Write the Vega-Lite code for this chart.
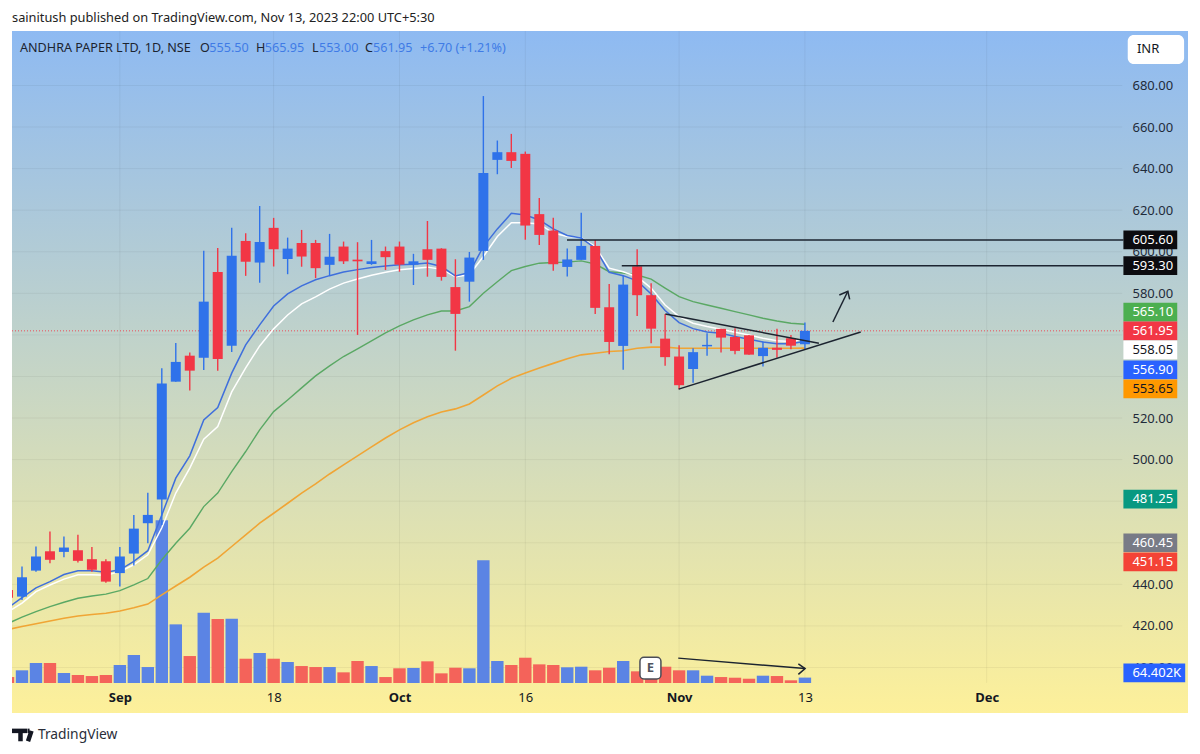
{"$schema":"https://vega.github.io/schema/vega-lite/v6.json","width":1176,"height":682,"autosize":"none","padding":{"left":12,"top":31,"right":12,"bottom":41},"background":"white","view":{"stroke":null,"fill":{"gradient":"linear","x1":0,"y1":0,"x2":0,"y2":1,"stops":[{"offset":0,"color":"#8ebaf2"},{"offset":1,"color":"#fdf09a"}]}},"config":{"font":"Noto Sans"},"title":{"text":"sainitush published on TradingView.com, Nov 13, 2023 22:00 UTC+5:30","anchor":"start","frame":"group","offset":6,"fontSize":12.8,"fontWeight":"normal","font":"Noto Sans","color":"#222222"},"datasets":{"bars":[
{"i":-1,"dir":"down","o":437.3,"h":439.7,"l":431.6,"c":433.5,"vol":71,"blue":428.7,"white":426.8,"green":421.2,"orange":418.3},
{"i":0,"dir":"up","o":434.1,"h":448.6,"l":432.5,"c":443.4,"vol":151,"blue":433.6,"white":431,"green":424.2,"orange":419.7},
{"i":1,"dir":"up","o":446.6,"h":458.2,"l":446.1,"c":453.4,"vol":238,"blue":438.3,"white":436.5,"green":426.9,"orange":421},
{"i":2,"dir":"down","o":455.9,"h":465.4,"l":450.2,"c":451.8,"vol":238,"blue":441.3,"white":439.7,"green":429.3,"orange":422.4},
{"i":3,"dir":"up","o":455.6,"h":463,"l":453,"c":457.7,"vol":119,"blue":444.7,"white":442.5,"green":431.4,"orange":423.7},
{"i":4,"dir":"down","o":456.4,"h":463.8,"l":450.5,"c":451.3,"vol":95,"blue":446.5,"white":444.6,"green":433.3,"orange":424.8},
{"i":5,"dir":"down","o":452.1,"h":457.9,"l":446.1,"c":447,"vol":83,"blue":446.5,"white":444.6,"green":434.4,"orange":425.5},
{"i":6,"dir":"down","o":451.1,"h":452.1,"l":440.8,"c":441.3,"vol":95,"blue":445.8,"white":444.4,"green":435.3,"orange":426.1},
{"i":7,"dir":"up","o":445.4,"h":457.9,"l":438.9,"c":453.4,"vol":214,"blue":447,"white":446.1,"green":437,"orange":427.2},
{"i":8,"dir":"up","o":454.8,"h":473.4,"l":449,"c":466.8,"vol":333,"blue":451,"white":449.4,"green":439.7,"orange":428.7},
{"i":9,"dir":"up","o":469.4,"h":484.1,"l":459.8,"c":473.4,"vol":190,"blue":456.2,"white":454.2,"green":442.8,"orange":430.5},
{"i":10,"dir":"up","o":480.8,"h":544,"l":468.6,"c":536.6,"vol":1936,"blue":473.4,"white":467.2,"green":451.8,"orange":434.9},
{"i":11,"dir":"up","o":537.5,"h":556.1,"l":537.5,"c":547,"vol":698,"blue":491.1,"white":483.9,"green":459.8,"orange":439.2},
{"i":12,"dir":"down","o":550,"h":551.5,"l":533.2,"c":542.8,"vol":321,"blue":501.8,"white":495.9,"green":467,"orange":443.4},
{"i":13,"dir":"up","o":549,"h":600.5,"l":543.1,"c":576,"vol":837,"blue":519.1,"white":509.8,"green":477.4,"orange":448.3},
{"i":14,"dir":"down","o":590.3,"h":601.8,"l":542.7,"c":548.4,"vol":762,"blue":525,"white":515.9,"green":483.9,"orange":452.6},
{"i":15,"dir":"up","o":554.8,"h":611.6,"l":551.8,"c":598.1,"vol":765,"blue":541.6,"white":532.6,"green":494.2,"orange":458.2},
{"i":16,"dir":"down","o":605.2,"h":608.9,"l":588.4,"c":595.2,"vol":289,"blue":555.2,"white":544.1,"green":503.9,"orange":463.8},
{"i":17,"dir":"up","o":594.8,"h":622,"l":585.1,"c":604.7,"vol":357,"blue":564.8,"white":554.7,"green":514.3,"orange":469.4},
{"i":18,"dir":"down","o":611.5,"h":616.3,"l":592.9,"c":601.2,"vol":289,"blue":573.9,"white":562.9,"green":523.1,"orange":474.2},
{"i":19,"dir":"up","o":596.5,"h":606.8,"l":589.2,"c":601.5,"vol":250,"blue":579.7,"white":569.6,"green":528.7,"orange":479},
{"i":20,"dir":"down","o":604.2,"h":610.5,"l":592.8,"c":597.7,"vol":202,"blue":583.6,"white":574.9,"green":534.5,"orange":483.9},
{"i":21,"dir":"down","o":604.2,"h":605.7,"l":587.3,"c":592.1,"vol":190,"blue":586.5,"white":578.3,"green":540.3,"orange":488.3},
{"i":22,"dir":"up","o":593.7,"h":608.6,"l":588.4,"c":597.6,"vol":190,"blue":588.5,"white":582,"green":545.1,"orange":493.1},
{"i":23,"dir":"down","o":602.5,"h":604.9,"l":594.1,"c":595.4,"vol":127,"blue":590.3,"white":584.9,"green":549.6,"orange":497.5},
{"i":24,"dir":"down","o":596.2,"h":604.6,"l":560,"c":595.4,"vol":262,"blue":591.4,"white":586.9,"green":553.3,"orange":501.8},
{"i":25,"dir":"up","o":594.1,"h":605.7,"l":593.7,"c":595.4,"vol":202,"blue":592.4,"white":588.7,"green":557.1,"orange":506.1},
{"i":26,"dir":"down","o":600.3,"h":602.5,"l":591.2,"c":597.4,"vol":71,"blue":593.2,"white":590.1,"green":561,"orange":510.4},
{"i":27,"dir":"down","o":602.5,"h":604.9,"l":590.4,"c":593.8,"vol":175,"blue":593.7,"white":591.3,"green":564.3,"orange":514.3},
{"i":28,"dir":"up","o":593.8,"h":599,"l":584,"c":595.4,"vol":179,"blue":594,"white":591.9,"green":567.2,"orange":517.7},
{"i":29,"dir":"down","o":601.2,"h":614.8,"l":588,"c":596.1,"vol":258,"blue":594.6,"white":592.6,"green":569.6,"orange":520.6},
{"i":30,"dir":"down","o":601.5,"h":601.7,"l":586.1,"c":587.9,"vol":115,"blue":592.9,"white":591.6,"green":571.5,"orange":522.9},
{"i":31,"dir":"down","o":583,"h":596.4,"l":552.4,"c":570.1,"vol":182,"blue":588.4,"white":588,"green":571.5,"orange":524.4},
{"i":32,"dir":"up","o":585.6,"h":599.9,"l":576,"c":597.2,"vol":175,"blue":590,"white":588.9,"green":573.6,"orange":526.8},
{"i":33,"dir":"up","o":600.4,"h":674.9,"l":596.1,"c":637.9,"vol":1460,"blue":602.5,"white":597.7,"green":580,"orange":531.1},
{"i":34,"dir":"up","o":644.2,"h":653.5,"l":637.3,"c":647.9,"vol":262,"blue":611,"white":607.3,"green":585.6,"orange":535.5},
{"i":35,"dir":"down","o":647.9,"h":656.7,"l":640.3,"c":643.7,"vol":214,"blue":618.5,"white":614,"green":590.9,"orange":539.1},
{"i":36,"dir":"down","o":647.1,"h":648.2,"l":605.8,"c":612.6,"vol":301,"blue":617.7,"white":614,"green":592.9,"orange":541.7},
{"i":37,"dir":"down","o":618.1,"h":625.8,"l":603.3,"c":608.1,"vol":222,"blue":615.3,"white":613.4,"green":594.5,"orange":544.1},
{"i":38,"dir":"down","o":610.2,"h":616.4,"l":590.8,"c":594,"vol":214,"blue":611,"white":609,"green":594.8,"orange":546.3},
{"i":39,"dir":"up","o":592.7,"h":601.6,"l":588.1,"c":596.3,"vol":187,"blue":607.8,"white":607.3,"green":595,"orange":548.5},
{"i":40,"dir":"up","o":596.1,"h":618.8,"l":596.1,"c":602.8,"vol":194,"blue":606.6,"white":606.8,"green":595.6,"orange":550.4},
{"i":41,"dir":"down","o":602.8,"h":605.7,"l":570,"c":573,"vol":151,"blue":601.7,"white":602.5,"green":594.1,"orange":551.2},
{"i":42,"dir":"down","o":573.3,"h":584.5,"l":550.7,"c":556.6,"vol":182,"blue":590.1,"white":592.1,"green":590.4,"orange":552},
{"i":43,"dir":"up","o":554.7,"h":588.4,"l":543.2,"c":584.2,"vol":262,"blue":588.5,"white":590.4,"green":589.8,"orange":552.4},
{"i":44,"dir":"down","o":593,"h":601.2,"l":569.1,"c":579.1,"vol":139,"blue":586,"white":588,"green":588.8,"orange":553.6},
{"i":45,"dir":"down","o":579.1,"h":584.9,"l":556,"c":563,"vol":110,"blue":579.7,"white":582.5,"green":586.8,"orange":554.1},
{"i":46,"dir":"down","o":558.2,"h":570,"l":545.1,"c":549.3,"vol":194,"blue":571.7,"white":574.4,"green":582.5,"orange":554.1},
{"i":47,"dir":"down","o":549.6,"h":555,"l":533.9,"c":535.8,"vol":151,"blue":565.9,"white":568.8,"green":578.4,"orange":553.6},
{"i":48,"dir":"up","o":543.6,"h":553.6,"l":537,"c":551.7,"vol":151,"blue":563,"white":565.6,"green":576,"orange":553.6},
{"i":49,"dir":"up","o":554.5,"h":560.8,"l":550,"c":555.2,"vol":87,"blue":561.4,"white":564,"green":574.4,"orange":553.6},
{"i":50,"dir":"down","o":562.9,"h":562.9,"l":551.5,"c":558.7,"vol":71,"blue":560.8,"white":562.7,"green":572.8,"orange":553.6},
{"i":51,"dir":"down","o":559,"h":563.2,"l":550.7,"c":552.3,"vol":63,"blue":559.2,"white":561.3,"green":571.2,"orange":553.6},
{"i":52,"dir":"down","o":559.8,"h":560,"l":550.4,"c":550.5,"vol":51,"blue":557.9,"white":560,"green":569.6,"orange":553.6},
{"i":53,"dir":"up","o":549.8,"h":556.8,"l":544.8,"c":553.8,"vol":87,"blue":556.6,"white":558.4,"green":568,"orange":553.6},
{"i":54,"dir":"down","o":553.8,"h":562.9,"l":549,"c":552.8,"vol":83,"blue":555.7,"white":557.2,"green":566.7,"orange":553.6},
{"i":55,"dir":"down","o":558.4,"h":560,"l":553.1,"c":554.8,"vol":32,"blue":555.7,"white":556.8,"green":565.6,"orange":553.6},
{"i":56,"dir":"up","o":555.5,"h":565.95,"l":553,"c":561.95,"vol":64.402,"blue":556.9,"white":558.05,"green":565.1,"orange":553.65}
],"drawings":[
{"shape":"resistance","k":0,"i":38.98,"price":605.6},{"shape":"resistance","k":1,"i":78.78,"price":605.6},
{"shape":"swing","k":0,"i":42.9,"price":593.3},{"shape":"swing","k":1,"i":78.78,"price":593.3},
{"shape":"upper","k":0,"i":46.02,"price":570},{"shape":"upper","k":1,"i":57,"price":556},
{"shape":"lower","k":0,"i":46.97,"price":533.9},{"shape":"lower","k":1,"i":59.99,"price":561.4},
{"shape":"arrow","k":0,"i":58,"price":566.2},{"shape":"arrow","k":1,"i":59.07,"price":581},
{"shape":"arrowhead","k":0,"i":58.46,"price":579.2},{"shape":"arrowhead","k":1,"i":59.07,"price":581},{"shape":"arrowhead","k":2,"i":59.2,"price":577.1},
{"shape":"volarrow","k":0,"i":46.94,"price":404.5},{"shape":"volarrow","k":1,"i":56.01,"price":399.5},
{"shape":"volhead","k":0,"i":55.53,"price":401.7},{"shape":"volhead","k":1,"i":56.01,"price":399.5},{"shape":"volhead","k":2,"i":55.53,"price":396.7}
],"badges":[
{"label":"605.60","i":78.78,"i2":82.63,"at":605.7,"kind":"drawing"},{"label":"593.30","i":78.78,"i2":82.63,"at":593.3,"kind":"drawing"},{"label":"565.10","i":78.78,"i2":82.63,"at":571,"kind":"green"},{"label":"561.95","i":78.78,"i2":82.63,"at":561.95,"kind":"red"},{"label":"558.05","i":78.78,"i2":82.63,"at":552.8,"kind":"white"},{"label":"556.90","i":78.78,"i2":82.63,"at":543.2,"kind":"blue"},{"label":"553.65","i":78.78,"i2":82.63,"at":534,"kind":"orange"},{"label":"481.25","i":78.78,"i2":82.63,"at":481,"kind":"teal"},{"label":"460.45","i":78.78,"i2":82.63,"at":460,"kind":"gray"},{"label":"451.15","i":78.78,"i2":82.63,"at":450.8,"kind":"coral"},{"label":"64.402K","i":78.78,"i2":83.2,"at":397.4,"kind":"volume"}
],"legendrow":[
{"t":"ANDHRA PAPER LTD, 1D, NSE","i":-0.143,"kind":"name"},{"t":"O","i":12.73,"kind":"name"},{"t":"555.50","i":13.4,"kind":"value"},{"t":"H","i":16.74,"kind":"name"},{"t":"565.95","i":17.37,"kind":"value"},{"t":"L","i":20.74,"kind":"name"},{"t":"553.00","i":21.24,"kind":"value"},{"t":"C","i":24.54,"kind":"name"},{"t":"561.95","i":25.11,"kind":"value"},{"t":"+6.70 (+1.21%)","i":28.47,"kind":"value"}
],"logo":[
{"part":"bar","k":0,"i":-0.715,"price":369.5},{"part":"bar","k":1,"i":0.36,"price":369.5},
{"part":"stem","k":0,"i":-0.107,"price":369.5},{"part":"stem","k":1,"i":-0.107,"price":364.5},
{"part":"dot","k":0,"i":0.39,"price":369.5},{"part":"dot","k":1,"i":0.54,"price":369.5},
{"part":"slash","k":0,"i":0.68,"price":369.5},{"part":"slash","k":1,"i":0.43,"price":364.5}
]},"encoding":{"x":{"field":"i","type":"quantitative","title":null,"scale":{"domain":[-0.715,83.4],"nice":false,"zero":false,"padding":0},"axis":{"orient":"bottom","offset":-30,"values":[7,18,27,36,47,56,69],"labelExpr":"datum.value==7?'Sep':datum.value==18?'18':datum.value==27?'Oct':datum.value==36?'16':datum.value==47?'Nov':datum.value==56?'13':'Dec'","labelFontWeight":{"condition":{"test":"datum.value==7||datum.value==27||datum.value==47||datum.value==69","value":"bold"},"value":"normal"},"grid":false,"domain":false,"ticks":false,"labelPadding":8,"labelFontSize":13,"labelColor":"#131722","labelFont":"Noto Sans","labelOverlap":false,"labelFlush":false,"labelBound":false}}},"layer":[
{"layer":[
{"data":{"values":[{"i":-0.715,"i2":78.7,"price":400},{"i":-0.715,"i2":78.7,"price":420},{"i":-0.715,"i2":78.7,"price":440},{"i":-0.715,"i2":78.7,"price":460},{"i":-0.715,"i2":78.7,"price":480},{"i":-0.715,"i2":78.7,"price":500},{"i":-0.715,"i2":78.7,"price":520},{"i":-0.715,"i2":78.7,"price":540},{"i":-0.715,"i2":78.7,"price":560},{"i":-0.715,"i2":78.7,"price":580},{"i":-0.715,"i2":78.7,"price":600},{"i":-0.715,"i2":78.7,"price":620},{"i":-0.715,"i2":78.7,"price":640},{"i":-0.715,"i2":78.7,"price":660},{"i":-0.715,"i2":78.7,"price":680}]},"mark":{"type":"rule","color":"#000000","opacity":0.05,"strokeWidth":1},"encoding":{"x2":{"field":"i2"},"y":{"field":"price","type":"quantitative","title":null,"scale":{"domain":[378.1,706.2],"nice":false,"zero":false},"axis":{"orient":"right","offset":-66,"values":[400,420,440,500,520,580,600,620,640,660,680],"format":".2f","grid":false,"domain":false,"ticks":false,"labelPadding":10,"labelFontSize":13,"labelColor":"#1f2b3a","labelFont":"Noto Sans","labelOverlap":false,"labelBound":false,"labelFlush":false}}}},
{"data":{"values":[{"i":7},{"i":18},{"i":27},{"i":36},{"i":47},{"i":56},{"i":69}]},"mark":{"type":"rule","color":"#000000","opacity":0.05,"strokeWidth":1},"encoding":{"y":{"datum":392.6,"type":"quantitative","scale":{"domain":[378.1,706.2],"nice":false,"zero":false}},"y2":{"datum":706.2}}}
]},
{"data":{"name":"bars"},"mark":{"type":"bar","size":12.4,"clip":true},"encoding":{"y":{"field":"vol","type":"quantitative","stack":null,"title":null,"axis":null,"scale":{"domain":[-357,7760],"nice":false,"zero":false}},"color":{"field":"dir","type":"nominal","legend":null,"scale":{"domain":["up","down"],"range":["#5b84e4","#f4635a"]}}}},
{"resolve":{"scale":{"color":"independent"}},"layer":[
{"data":{"values":[{"i":-0.715,"i2":78.7,"price":561.95}]},"mark":{"type":"rule","color":"#f23645","strokeWidth":1,"strokeDash":[1,2],"opacity":0.85},"encoding":{"x2":{"field":"i2"},"y":{"field":"price","type":"quantitative","title":null,"axis":null,"scale":{"domain":[378.1,706.2],"nice":false,"zero":false}}}},
{"data":{"name":"bars"},"mark":{"type":"line","color":"#f0a535","strokeWidth":1.6,"clip":true},"encoding":{"y":{"field":"orange","type":"quantitative","axis":null,"scale":{"domain":[378.1,706.2],"nice":false,"zero":false}}}},
{"data":{"name":"bars"},"mark":{"type":"line","color":"#5aa864","strokeWidth":1.4,"clip":true},"encoding":{"y":{"field":"green","type":"quantitative","axis":null,"scale":{"domain":[378.1,706.2],"nice":false,"zero":false}}}},
{"data":{"name":"bars"},"mark":{"type":"line","color":"#ffffff","strokeWidth":1.5,"clip":true},"encoding":{"y":{"field":"white","type":"quantitative","axis":null,"scale":{"domain":[378.1,706.2],"nice":false,"zero":false}}}},
{"data":{"name":"bars"},"mark":{"type":"line","color":"#3f6fdc","strokeWidth":1.5,"clip":true},"encoding":{"y":{"field":"blue","type":"quantitative","axis":null,"scale":{"domain":[378.1,706.2],"nice":false,"zero":false}}}},
{"data":{"name":"bars"},"mark":{"type":"rule","strokeWidth":1.4,"clip":true},"encoding":{"y":{"field":"l","type":"quantitative","axis":null,"scale":{"domain":[378.1,706.2],"nice":false,"zero":false}},"y2":{"field":"h"},"color":{"field":"dir","type":"nominal","legend":null,"scale":{"domain":["up","down"],"range":["#2f72ea","#f23645"]}}}},
{"data":{"name":"bars"},"mark":{"type":"bar","size":10,"clip":true},"encoding":{"y":{"field":"o","type":"quantitative","axis":null,"scale":{"domain":[378.1,706.2],"nice":false,"zero":false}},"y2":{"field":"c"},"color":{"field":"dir","type":"nominal","legend":null,"scale":{"domain":["up","down"],"range":["#2f72ea","#f23645"]}}}},
{"data":{"name":"drawings"},"mark":{"type":"line","color":"#1c2430","strokeWidth":1.5},"encoding":{"detail":{"field":"shape","type":"nominal"},"order":{"field":"k","type":"ordinal"},"y":{"field":"price","type":"quantitative","axis":null,"scale":{"domain":[378.1,706.2],"nice":false,"zero":false}}}},
{"data":{"values":[{"t":"E","i":44.2,"i2":45.7}]},"mark":{"type":"rect","fill":"#ffffff","stroke":"#4a4d57","strokeWidth":1.5,"cornerRadius":4},"encoding":{"x2":{"field":"i2"},"y":{"datum":404.9,"type":"quantitative","axis":null,"scale":{"domain":[378.1,706.2],"nice":false,"zero":false}},"y2":{"datum":394.5}}},
{"data":{"values":[{"t":"E","i":44.95,"price":399.7}]},"mark":{"type":"text","fontSize":13,"fontWeight":"bold","color":"#50535e","align":"center","baseline":"middle","font":"Noto Sans"},"encoding":{"y":{"field":"price","type":"quantitative","axis":null,"scale":{"domain":[378.1,706.2],"nice":false,"zero":false}},"text":{"field":"t"}}},
{"data":{"name":"badges"},"mark":{"type":"rule","strokeWidth":18.7},"encoding":{"x2":{"field":"i2"},"y":{"field":"at","type":"quantitative","axis":null,"scale":{"domain":[378.1,706.2],"nice":false,"zero":false}},"color":{"field":"kind","type":"nominal","legend":null,"scale":{"domain":["drawing","green","red","white","blue","orange","teal","gray","coral","volume"],"range":["#0c0c10","#4caf50","#f23645","#ffffff","#2962ff","#ff9800","#089981","#787b86","#f44336","#2962ff"]}}}},
{"data":{"name":"badges"},"mark":{"type":"text","fontSize":13,"align":"left","baseline":"middle","font":"Noto Sans","dx":9},"encoding":{"y":{"field":"at","type":"quantitative","axis":null,"scale":{"domain":[378.1,706.2],"nice":false,"zero":false}},"text":{"field":"label"},"color":{"field":"kind","type":"nominal","legend":null,"scale":{"domain":["drawing","green","red","white","blue","orange","teal","gray","coral","volume"],"range":["#ffffff","#ffffff","#ffffff","#131722","#ffffff","#131722","#ffffff","#ffffff","#ffffff","#ffffff"]}}}},
{"data":{"values":[{"t":"INR","i":79.09,"i2":83.12}]},"mark":{"type":"rect","fill":"#ffffff","cornerRadius":6},"encoding":{"x2":{"field":"i2"},"y":{"datum":704.3,"type":"quantitative","axis":null,"scale":{"domain":[378.1,706.2],"nice":false,"zero":false}},"y2":{"datum":690.3}}},
{"data":{"values":[{"t":"INR","i":80.55,"price":697.4}]},"mark":{"type":"text","fontSize":13,"align":"center","baseline":"middle","color":"#131722","font":"Noto Sans"},"encoding":{"y":{"field":"price","type":"quantitative","axis":null,"scale":{"domain":[378.1,706.2],"nice":false,"zero":false}},"text":{"field":"t"}}},
{"data":{"name":"legendrow"},"mark":{"type":"text","fontSize":12.6,"align":"left","baseline":"middle","font":"Noto Sans"},"encoding":{"y":{"datum":697.8,"type":"quantitative","axis":null,"scale":{"domain":[378.1,706.2],"nice":false,"zero":false}},"text":{"field":"t"},"color":{"field":"kind","type":"nominal","legend":null,"scale":{"domain":["name","value"],"range":["#1c2430","#3f7be6"]}}}},
{"data":{"name":"logo"},"mark":{"type":"line","color":"#131722","strokeWidth":4.5,"strokeCap":"butt"},"encoding":{"detail":{"field":"part","type":"nominal"},"order":{"field":"k","type":"ordinal"},"y":{"field":"price","type":"quantitative","axis":null,"scale":{"domain":[378.1,706.2],"nice":false,"zero":false}}}},
{"data":{"values":[{"t":"TradingView","i":1.14,"price":367.6}]},"mark":{"type":"text","fontSize":13.8,"align":"left","baseline":"middle","color":"#2a2e39","font":"Noto Sans"},"encoding":{"y":{"field":"price","type":"quantitative","axis":null,"scale":{"domain":[378.1,706.2],"nice":false,"zero":false}},"text":{"field":"t"}}}
]}
],"resolve":{"scale":{"y":"independent","color":"independent"}}}
